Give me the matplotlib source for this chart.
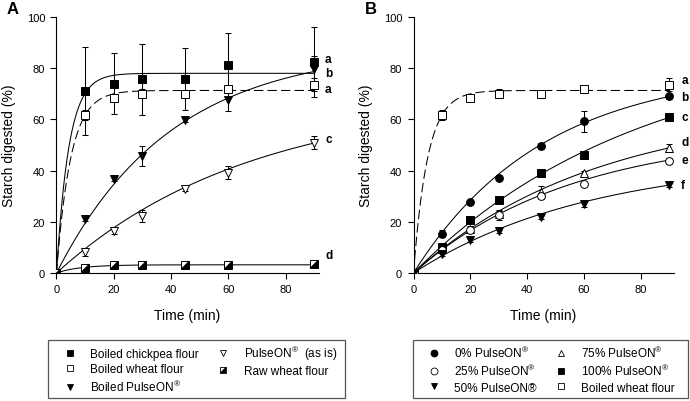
import numpy as np
import matplotlib
matplotlib.use("Agg")
import matplotlib.pyplot as plt
from matplotlib.lines import Line2D
from matplotlib.patches import Rectangle
from matplotlib.path import Path
from matplotlib.legend_handler import HandlerTuple

plt.rcParams['font.family'] = ['Liberation Sans', 'DejaVu Sans']
plt.rcParams['mathtext.fontset'] = 'custom'
plt.rcParams['mathtext.rm'] = 'Liberation Sans'
plt.rcParams['mathtext.it'] = 'Liberation Sans'
plt.rcParams['mathtext.default'] = 'regular'

# ---------------- data ----------------
time_min = [0, 10, 20, 30, 45, 60, 90]

# Panel A
chickpea = [0, 71.1, 74.0, 75.7, 75.7, 81.1, 82.4]
chickpea_err = [0, 17.0, 12.0, 13.8, 12.0, 12.5, 13.6]
wheat = [0, 61.8, 68.5, 70.1, 70.1, 71.7, 73.6]
wheat_err = [0, 2.0, 1.5, 1.8, 1.5, 1.2, 2.5]
pulse_boiled = [0, 21.0, 36.6, 45.7, 59.6, 67.4, 79.6]
pulse_boiled_err = [0, 0.8, 0.8, 3.8, 0.8, 4.0, 5.0]
pulse_asis = [0, 8.2, 16.4, 22.3, 32.9, 39.2, 50.9]
pulse_asis_err = [0, 1.5, 1.0, 2.2, 1.0, 2.5, 2.5]
raw_wheat = [0, 2.0, 3.0, 3.0, 3.0, 3.0, 3.4]
raw_wheat_err = [0, 0.3, 0.3, 0.3, 0.3, 0.3, 0.3]

# first-order kinetic fit parameters (C_inf, k)
fit_A = {'chickpea': (78.0, 0.23), 'wheat': (71.3, 0.20),
         'pulse_boiled': (88.0, 0.025), 'pulse_asis': (69.0, 0.0148),
         'raw_wheat': (3.2, 0.12)}

letters_A = ['a', 'b', 'a', 'c', 'd']
letters_A_y = [83.7, 78.3, 72.0, 52.5, 6.9]

# Panel B
p0 = [0, 15.4, 27.7, 37.2, 49.6, 59.2, 69.0]
p0_err = [0, 1.5, 1.0, 1.0, 1.0, 4.0, 1.0]
p25 = [0, 8.9, 16.7, 22.8, 30.1, 34.9, 43.6]
p25_err = [0, 1.0, 1.0, 2.0, 1.0, 0.8, 1.2]
p50 = [0, 7.6, 12.8, 16.3, 21.9, 26.8, 34.5]
p50_err = [0, 0.8, 0.8, 0.8, 0.8, 1.0, 1.0]
p75 = [0, 9.5, 17.3, 23.2, 31.6, 39.2, 48.8]
p75_err = [0, 0.8, 1.0, 1.0, 2.2, 0.8, 1.5]
p100 = [0, 10.2, 20.6, 28.4, 39.2, 46.2, 60.8]
p100_err = [0, 0.8, 1.0, 1.0, 1.2, 0.8, 0.8]

fit_B = {'p0': (80.0, 0.022), 'p25': (55.0, 0.018), 'p50': (45.0, 0.016),
         'p75': (65.0, 0.0155), 'p100': (90.0, 0.0125), 'wheat': (71.3, 0.20)}

letters_B = ['a', 'b', 'c', 'd', 'e', 'f']
letters_B_y = [75.3, 68.6, 61.0, 51.2, 44.3, 34.5]

# ---------------- figure ----------------
W, H = 690, 402
fig = plt.figure(figsize=(W / 100, H / 100), dpi=100)

def fx(px):
    return px / W

def fy(py):
    return 1 - py / H

axA = fig.add_axes([fx(56.5), fy(274), fx(262), (274 - 18) / H])
axB = fig.add_axes([fx(413.5), fy(274), fx(260), (274 - 18) / H])

tcurve = np.linspace(0, 90, 300)

def curve(params):
    c, k = params
    return c * (1 - np.exp(-k * tcurve))

half_sq = Path([(-1, -1), (1, -1), (1, 1), (-1, -1)],
               [Path.MOVETO, Path.LINETO, Path.LINETO, Path.CLOSEPOLY])

LW = 0.75

def series(ax, y, err, marker, filled, ms, fitp, ls='-', zorder=3):
    ax.plot(tcurve, curve(fitp), color='black', lw=LW, ls=ls,
            dashes=(9, 4) if ls == '--' else (None, None), zorder=2)
    ax.errorbar(time_min, y, yerr=err, fmt='none', ecolor='black',
                elinewidth=LW, capsize=2.5, capthick=LW, zorder=2.5)
    ax.plot(time_min, y, ls='none', marker=marker, ms=ms,
            mfc='black' if filled else 'white', mec='black', mew=0.7,
            zorder=zorder)

def raw_series(ax, y, err, ms, fitp):
    ax.plot(tcurve, curve(fitp), color='black', lw=LW, zorder=2)
    ax.errorbar(time_min, y, yerr=err, fmt='none', ecolor='black',
                elinewidth=LW, capsize=2.5, capthick=LW, zorder=2.5)
    ax.plot(time_min, y, ls='none', marker='s', ms=ms, mfc='white',
            mec='black', mew=0.7, zorder=3)
    ax.plot(time_min, y, ls='none', marker=half_sq, ms=ms, mfc='black',
            mec='black', mew=0.3, zorder=3.1)

# Panel A
series(axA, chickpea, chickpea_err, 's', True, 5.2, fit_A['chickpea'])
series(axA, wheat, wheat_err, 's', False, 5.2, fit_A['wheat'], ls='--')
series(axA, pulse_boiled, pulse_boiled_err, 'v', True, 5.8, fit_A['pulse_boiled'])
series(axA, pulse_asis, pulse_asis_err, 'v', False, 5.8, fit_A['pulse_asis'])
raw_series(axA, raw_wheat, raw_wheat_err, 5.2, fit_A['raw_wheat'])

# Panel B
series(axB, wheat, wheat_err, 's', False, 5.2, fit_B['wheat'], ls='--')
series(axB, p0, p0_err, 'o', True, 5.6, fit_B['p0'])
series(axB, p100, p100_err, 's', True, 5.2, fit_B['p100'])
series(axB, p75, p75_err, '^', False, 5.8, fit_B['p75'])
series(axB, p25, p25_err, 'o', False, 5.6, fit_B['p25'])
series(axB, p50, p50_err, 'v', True, 5.8, fit_B['p50'])

for ax, letters, ly, lx in [(axA, letters_A, letters_A_y, 93.8),
                            (axB, letters_B, letters_B_y, 94.2)]:
    ax.set_xlim(0, 91.5)
    ax.set_ylim(0, 100)
    ax.set_xticks([0, 20, 40, 60, 80])
    ax.set_yticks([0, 20, 40, 60, 80, 100])
    ax.spines['top'].set_visible(False)
    ax.spines['right'].set_visible(False)
    for s in ('left', 'bottom'):
        ax.spines[s].set_linewidth(0.8)
    ax.tick_params(axis='both', direction='out', length=4.2, width=0.8,
                   labelsize=8.0, pad=4)
    ax.set_xlabel('Time (min)', fontsize=10)
    ax.xaxis.set_label_coords(0.5, -42 / 256)
    ax.xaxis.label.set_va('center')
    ax.set_ylabel('Starch digested (%)', fontsize=10)
    ax.yaxis.label.set_va('center')
    for lt, yv in zip(letters, ly):
        ax.text(lx, yv, lt, fontsize=8.5, fontweight='bold', ha='left',
                va='center', clip_on=False)

axA.yaxis.set_label_coords(-47 / 262, 0.5)
axB.yaxis.set_label_coords(-47.5 / 260, 0.5)

fig.text(fx(13), fy(9.5), 'A', fontsize=12, fontweight='bold', ha='center', va='center')
fig.text(fx(371), fy(9.5), 'B', fontsize=12, fontweight='bold', ha='center', va='center')

# ---------------- legends ----------------
def h(marker, filled, ms=5):
    return Line2D([], [], ls='none', marker=marker, ms=ms,
                  mfc='black' if filled else 'white', mec='black', mew=0.6)

raw_handle = (Line2D([], [], ls='none', marker='s', ms=4.6, mfc='white',
                     mec='black', mew=0.6),
              Line2D([], [], ls='none', marker=half_sq, ms=4.6, mfc='black',
                     mec='black', mew=0.3))

R = r'PulseON$^{®}$'
handles_A = [h('s', True), h('s', False), h('v', True), h('v', False), raw_handle]
labels_A = ['Boiled chickpea flour', 'Boiled wheat flour', 'Boiled ' + R,
            R + '  (as is)', 'Raw wheat flour']
handles_B = [h('o', True), h('o', False), h('v', True), h('^', False),
             h('s', True), h('s', False)]
labels_B = ['0% ' + R, '25% ' + R, '50% PulseON®', '75% ' + R, '100% ' + R,
            'Boiled wheat flour']

for (x0, x1), hs, ls, cs, dx in [((48, 345), handles_A, labels_A, 1.6, 4),
                                 ((413, 688), handles_B, labels_B, 1.6, 1)]:
    fig.patches.append(Rectangle((fx(x0), fy(399)), fx(x1 - x0), (399 - 341) / H,
                                 transform=fig.transFigure, fill=False,
                                 edgecolor='#555555', lw=0.9))
    fig.legend(hs, ls, loc='center', bbox_to_anchor=(fx((x0 + x1) / 2 + dx), fy(370)),
               ncol=2, frameon=False, fontsize=8.5, labelspacing=0.28,
               handlelength=1.0, handletextpad=1.2, columnspacing=cs,
               borderpad=0, handler_map={tuple: HandlerTuple(ndivide=1)})

fig.savefig('out.png', dpi=100)
